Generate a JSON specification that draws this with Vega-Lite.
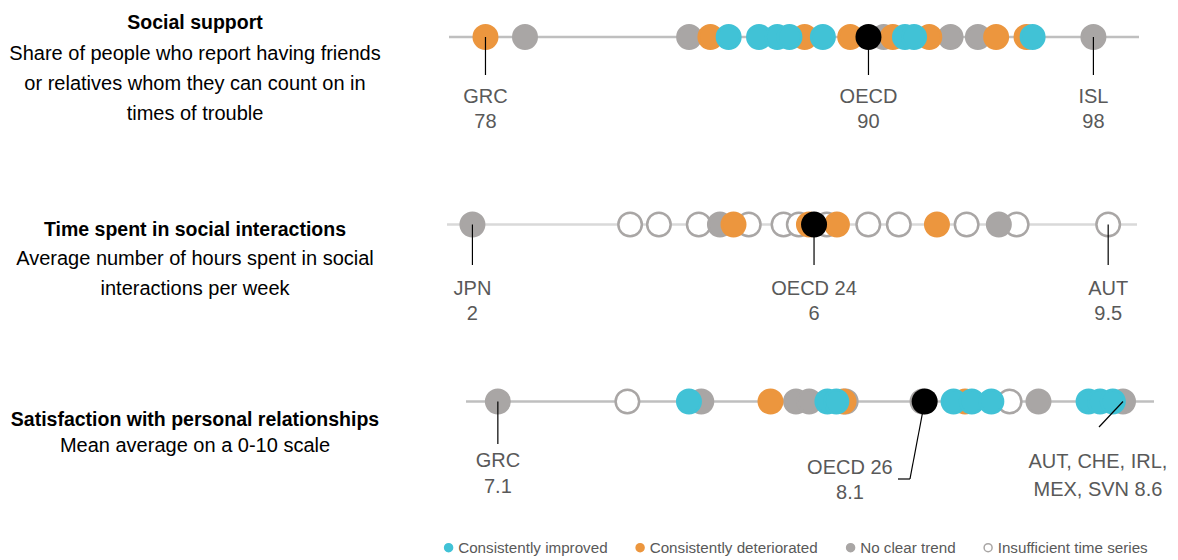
{
  "$schema": "https://vega.github.io/schema/vega-lite/v6.json",
  "padding": 0,
  "background": "white",
  "config": {"view": {"stroke": null}, "font": "Liberation Sans"},
  "datasets": {
    "ss": [
      {"value": 79.3, "trend": "No clear trend"},
      {"value": 84.7, "trend": "No clear trend"},
      {"value": 91.1, "trend": "No clear trend"},
      {"value": 93.3, "trend": "No clear trend"},
      {"value": 94.2, "trend": "No clear trend"},
      {"value": 98.0, "trend": "No clear trend"},
      {"value": 78.0, "trend": "Consistently deteriorated"},
      {"value": 85.4, "trend": "Consistently deteriorated"},
      {"value": 88.5, "trend": "Consistently deteriorated"},
      {"value": 90.0, "trend": "Consistently deteriorated"},
      {"value": 91.4, "trend": "Consistently deteriorated"},
      {"value": 92.6, "trend": "Consistently deteriorated"},
      {"value": 94.8, "trend": "Consistently deteriorated"},
      {"value": 95.8, "trend": "Consistently deteriorated"},
      {"value": 86.0, "trend": "Consistently improved"},
      {"value": 87.0, "trend": "Consistently improved"},
      {"value": 87.6, "trend": "Consistently improved"},
      {"value": 88.0, "trend": "Consistently improved"},
      {"value": 89.1, "trend": "Consistently improved"},
      {"value": 91.8, "trend": "Consistently improved"},
      {"value": 92.1, "trend": "Consistently improved"},
      {"value": 96.0, "trend": "Consistently improved"}
    ],
    "ss_oecd": [{"country": "OECD", "value": 90.6}],
    "ss_labels": [
      {"label": ["GRC", "78"], "value": 78.0},
      {"label": ["OECD", "90"], "value": 90.6},
      {"label": ["ISL", "98"], "value": 98.0}
    ],
    "tsi": [
      {"value": 3.86, "trend": "Insufficient time series"},
      {"value": 4.2, "trend": "Insufficient time series"},
      {"value": 4.67, "trend": "Insufficient time series"},
      {"value": 5.26, "trend": "Insufficient time series"},
      {"value": 5.67, "trend": "Insufficient time series"},
      {"value": 5.85, "trend": "Insufficient time series"},
      {"value": 6.18, "trend": "Insufficient time series"},
      {"value": 6.67, "trend": "Insufficient time series"},
      {"value": 7.03, "trend": "Insufficient time series"},
      {"value": 7.83, "trend": "Insufficient time series"},
      {"value": 8.42, "trend": "Insufficient time series"},
      {"value": 9.5, "trend": "Insufficient time series"},
      {"value": 2.0, "trend": "No clear trend"},
      {"value": 4.92, "trend": "No clear trend"},
      {"value": 8.21, "trend": "No clear trend"},
      {"value": 5.08, "trend": "Consistently deteriorated"},
      {"value": 5.97, "trend": "Consistently deteriorated"},
      {"value": 6.3, "trend": "Consistently deteriorated"},
      {"value": 7.48, "trend": "Consistently deteriorated"}
    ],
    "tsi_oecd": [{"country": "OECD", "value": 6.03}],
    "tsi_labels": [
      {"label": ["JPN", "2"], "value": 2.0},
      {"label": ["OECD 24", "6"], "value": 6.03},
      {"label": ["AUT", "9.5"], "value": 9.5}
    ],
    "sat": [
      {"value": 7.40, "trend": "Insufficient time series"},
      {"value": 8.30, "trend": "Insufficient time series"},
      {"value": 7.095, "trend": "No clear trend"},
      {"value": 7.574, "trend": "No clear trend"},
      {"value": 7.797, "trend": "No clear trend"},
      {"value": 7.828, "trend": "No clear trend"},
      {"value": 7.914, "trend": "No clear trend"},
      {"value": 8.095, "trend": "No clear trend"},
      {"value": 8.368, "trend": "No clear trend"},
      {"value": 8.567, "trend": "No clear trend"},
      {"value": 7.737, "trend": "Consistently deteriorated"},
      {"value": 7.909, "trend": "Consistently deteriorated"},
      {"value": 8.195, "trend": "Consistently deteriorated"},
      {"value": 7.545, "trend": "Consistently improved"},
      {"value": 7.871, "trend": "Consistently improved"},
      {"value": 7.892, "trend": "Consistently improved"},
      {"value": 8.168, "trend": "Consistently improved"},
      {"value": 8.211, "trend": "Consistently improved"},
      {"value": 8.257, "trend": "Consistently improved"},
      {"value": 8.486, "trend": "Consistently improved"},
      {"value": 8.513, "trend": "Consistently improved"},
      {"value": 8.543, "trend": "Consistently improved"}
    ],
    "sat_oecd": [{"country": "OECD", "label": ["OECD 26", "8.1"], "value": 8.10}],
    "sat_labels": [
      {"label": ["GRC", "7.1"], "value": 7.095}
    ],
    "sat_cluster": [{"label": ["AUT, CHE, IRL,", "MEX, SVN 8.6"], "value": 8.567}]
  },
  "spacing": 0,
  "vconcat": [
    {
      "spacing": 57,
      "hconcat": [
        {
          "width": 390, "height": 175,
          "data": {"values": [{"title": "Social support", "sub": ["Share of people who report having friends", "or relatives whom they can count on in", "times of trouble"]}]},
          "layer": [
            {"mark": {"type": "text", "fontSize": 19.5, "fontWeight": "bold", "color": "#000000", "align": "center", "baseline": "middle"},
             "encoding": {"text": {"field": "title", "type": "nominal"}, "y": {"datum": 23, "type": "quantitative", "scale": {"domain": [0, 175], "reverse": true, "nice": false, "zero": false}, "axis": null}}},
            {"mark": {"type": "text", "fontSize": 20, "lineHeight": 30, "color": "#000000", "align": "center", "baseline": "middle"},
             "encoding": {"text": {"field": "sub", "type": "nominal"}, "y": {"datum": 53.5, "type": "quantitative"}}}
          ]
        },
        {
          "width": 690, "height": 175,
          "layer": [
            {"data": {"values": [{}]}, "mark": {"type": "rule", "color": "#BFBFBF", "strokeWidth": 2.5},
             "encoding": {"x": {"datum": 76.8, "type": "quantitative", "scale": {"domain": [76.8, 99.5], "nice": false, "zero": false}, "axis": null}, "x2": {"datum": 99.5}, "y": {"datum": 37, "type": "quantitative", "scale": {"domain": [0, 175], "reverse": true, "nice": false, "zero": false}, "axis": null}}},
            {"data": {"name": "ss"}, "mark": {"type": "circle", "size": 552, "strokeWidth": 2.5, "opacity": 1},
             "encoding": {"x": {"field": "value", "type": "quantitative"}, "y": {"datum": 37, "type": "quantitative"},
              "fill": {"field": "trend", "type": "nominal", "scale": {"domain": ["Consistently improved", "Consistently deteriorated", "No clear trend", "Insufficient time series"], "range": ["#41C2D6", "#EC963E", "#A9A6A5", "#FFFFFF"]}, "legend": {"title": null, "orient": "none", "legendX": 441, "legendY": 540, "direction": "horizontal", "columns": 4, "symbolType": "circle", "symbolSize": 64, "symbolStrokeWidth": 1.5, "labelFontSize": 15.2, "labelColor": "#595959", "labelFont": "Liberation Sans", "labelLimit": 400, "columnPadding": 24.5, "labelOffset": 2}},
              "stroke": {"field": "trend", "type": "nominal", "scale": {"domain": ["Consistently improved", "Consistently deteriorated", "No clear trend", "Insufficient time series"], "range": ["#41C2D6", "#EC963E", "#A9A6A5", "#A9A6A5"]}, "legend": {"title": null, "orient": "none", "legendX": 441, "legendY": 540, "direction": "horizontal", "columns": 4, "symbolType": "circle", "symbolSize": 64, "symbolStrokeWidth": 1.5, "labelFontSize": 15.2, "labelColor": "#595959", "labelFont": "Liberation Sans", "labelLimit": 400, "columnPadding": 24.5, "labelOffset": 2}}}},
            {"data": {"name": "ss_oecd"}, "mark": {"type": "circle", "size": 676, "color": "#000000", "opacity": 1},
             "encoding": {"x": {"field": "value", "type": "quantitative"}, "y": {"datum": 37, "type": "quantitative"}}},
            {"data": {"name": "ss_labels"}, "mark": {"type": "rule", "color": "#000000", "strokeWidth": 1.2},
             "encoding": {"x": {"field": "value", "type": "quantitative"}, "y": {"datum": 37, "type": "quantitative"}, "y2": {"datum": 75}}},
            {"data": {"name": "ss_labels"}, "mark": {"type": "text", "fontSize": 20, "lineHeight": 25, "color": "#595959", "align": "center", "baseline": "middle"},
             "encoding": {"x": {"field": "value", "type": "quantitative"}, "y": {"datum": 96.5, "type": "quantitative"}, "text": {"field": "label", "type": "nominal"}}}
          ]
        }
      ]
    },
    {
      "spacing": 55,
      "hconcat": [
        {
          "width": 390, "height": 183,
          "data": {"values": [{"title": "Time spent in social interactions", "sub": ["Average number of hours spent in social", "interactions per week"]}]},
          "layer": [
            {"mark": {"type": "text", "fontSize": 19.5, "fontWeight": "bold", "color": "#000000", "align": "center", "baseline": "middle"},
             "encoding": {"text": {"field": "title", "type": "nominal"}, "y": {"datum": 54.5, "type": "quantitative", "scale": {"domain": [0, 183], "reverse": true, "nice": false, "zero": false}, "axis": null}}},
            {"mark": {"type": "text", "fontSize": 20, "lineHeight": 30, "color": "#000000", "align": "center", "baseline": "middle"},
             "encoding": {"text": {"field": "sub", "type": "nominal"}, "y": {"datum": 83.5, "type": "quantitative"}}}
          ]
        },
        {
          "width": 690, "height": 183,
          "layer": [
            {"data": {"values": [{}]}, "mark": {"type": "rule", "color": "#D9D9D9", "strokeWidth": 2.5},
             "encoding": {"x": {"datum": 1.7, "type": "quantitative", "scale": {"domain": [1.7, 9.84], "nice": false, "zero": false}, "axis": null}, "x2": {"datum": 9.84}, "y": {"datum": 49.5, "type": "quantitative", "scale": {"domain": [0, 183], "reverse": true, "nice": false, "zero": false}, "axis": null}}},
            {"data": {"name": "tsi"}, "mark": {"type": "circle", "size": 552, "strokeWidth": 2.5, "opacity": 1},
             "encoding": {"x": {"field": "value", "type": "quantitative"}, "y": {"datum": 49.5, "type": "quantitative"},
              "fill": {"field": "trend", "type": "nominal"},
              "stroke": {"field": "trend", "type": "nominal"}}},
            {"data": {"name": "tsi_oecd"}, "mark": {"type": "circle", "size": 676, "color": "#000000", "opacity": 1},
             "encoding": {"x": {"field": "value", "type": "quantitative"}, "y": {"datum": 49.5, "type": "quantitative"}}},
            {"data": {"name": "tsi_labels"}, "mark": {"type": "rule", "color": "#000000", "strokeWidth": 1.2},
             "encoding": {"x": {"field": "value", "type": "quantitative"}, "y": {"datum": 49.5, "type": "quantitative"}, "y2": {"datum": 90}}},
            {"data": {"name": "tsi_labels"}, "mark": {"type": "text", "fontSize": 20, "lineHeight": 25, "color": "#595959", "align": "center", "baseline": "middle"},
             "encoding": {"x": {"field": "value", "type": "quantitative"}, "y": {"datum": 114, "type": "quantitative"}, "text": {"field": "label", "type": "nominal"}}}
          ]
        }
      ]
    },
    {
      "spacing": 74,
      "hconcat": [
        {
          "width": 390, "height": 172,
          "data": {"values": [{"title": "Satisfaction with personal relationships", "sub": "Mean average on a 0-10 scale"}]},
          "layer": [
            {"mark": {"type": "text", "fontSize": 19.5, "fontWeight": "bold", "color": "#000000", "align": "center", "baseline": "middle"},
             "encoding": {"text": {"field": "title", "type": "nominal"}, "y": {"datum": 62, "type": "quantitative", "scale": {"domain": [0, 172], "reverse": true, "nice": false, "zero": false}, "axis": null}}},
            {"mark": {"type": "text", "fontSize": 20, "color": "#000000", "align": "center", "baseline": "middle"},
             "encoding": {"text": {"field": "sub", "type": "nominal"}, "y": {"datum": 88, "type": "quantitative"}}}
          ]
        },
        {
          "width": 688, "height": 172,
          "layer": [
            {"data": {"values": [{}]}, "mark": {"type": "rule", "color": "#BFBFBF", "strokeWidth": 2.5},
             "encoding": {"x": {"datum": 7.02, "type": "quantitative", "scale": {"domain": [7.02, 8.64], "nice": false, "zero": false}, "axis": null}, "x2": {"datum": 8.64}, "y": {"datum": 43.5, "type": "quantitative", "scale": {"domain": [0, 172], "reverse": true, "nice": false, "zero": false}, "axis": null}}},
            {"data": {"name": "sat"}, "mark": {"type": "circle", "size": 552, "strokeWidth": 2.5, "opacity": 1},
             "encoding": {"x": {"field": "value", "type": "quantitative"}, "y": {"datum": 43.5, "type": "quantitative"},
              "fill": {"field": "trend", "type": "nominal"},
              "stroke": {"field": "trend", "type": "nominal"}}},
            {"data": {"name": "sat_oecd"}, "mark": {"type": "circle", "size": 676, "color": "#000000", "opacity": 1},
             "encoding": {"x": {"field": "value", "type": "quantitative"}, "y": {"datum": 43.5, "type": "quantitative"}}},
            {"data": {"name": "sat_labels"}, "mark": {"type": "rule", "color": "#000000", "strokeWidth": 1.2},
             "encoding": {"x": {"field": "value", "type": "quantitative"}, "y": {"datum": 43.5, "type": "quantitative"}, "y2": {"datum": 86}}},
            {"data": {"name": "sat_labels"}, "mark": {"type": "text", "fontSize": 20, "lineHeight": 26, "color": "#595959", "align": "center", "baseline": "middle"},
             "encoding": {"x": {"field": "value", "type": "quantitative"}, "y": {"datum": 103, "type": "quantitative"}, "text": {"field": "label", "type": "nominal"}}},
            {"data": {"name": "sat_oecd"}, "mark": {"type": "rule", "color": "#000000", "strokeWidth": 1.2},
             "encoding": {"x": {"field": "value", "type": "quantitative"}, "x2": {"datum": 8.0654}, "y": {"datum": 43.5, "type": "quantitative"}, "y2": {"datum": 121}}},
            {"data": {"name": "sat_oecd"}, "mark": {"type": "rule", "color": "#000000", "strokeWidth": 1.2},
             "encoding": {"x": {"datum": 8.0654, "type": "quantitative"}, "x2": {"datum": 8.0372}, "y": {"datum": 121, "type": "quantitative"}}},
            {"data": {"name": "sat_oecd"}, "mark": {"type": "text", "fontSize": 20, "lineHeight": 25, "color": "#595959", "align": "center", "baseline": "middle"},
             "encoding": {"x": {"datum": 7.924, "type": "quantitative"}, "y": {"datum": 110, "type": "quantitative"}, "text": {"field": "label", "type": "nominal"}}},
            {"data": {"name": "sat_cluster"}, "mark": {"type": "rule", "color": "#000000", "strokeWidth": 1.2},
             "encoding": {"x": {"field": "value", "type": "quantitative"}, "x2": {"datum": 8.5105}, "y": {"datum": 43.5, "type": "quantitative"}, "y2": {"datum": 69}}},
            {"data": {"name": "sat_cluster"}, "mark": {"type": "text", "fontSize": 20, "lineHeight": 28, "color": "#595959", "align": "center", "baseline": "middle"},
             "encoding": {"x": {"datum": 8.508, "type": "quantitative"}, "y": {"datum": 104, "type": "quantitative"}, "text": {"field": "label", "type": "nominal"}}}
          ]
        }
      ]
    }
  ]
}
